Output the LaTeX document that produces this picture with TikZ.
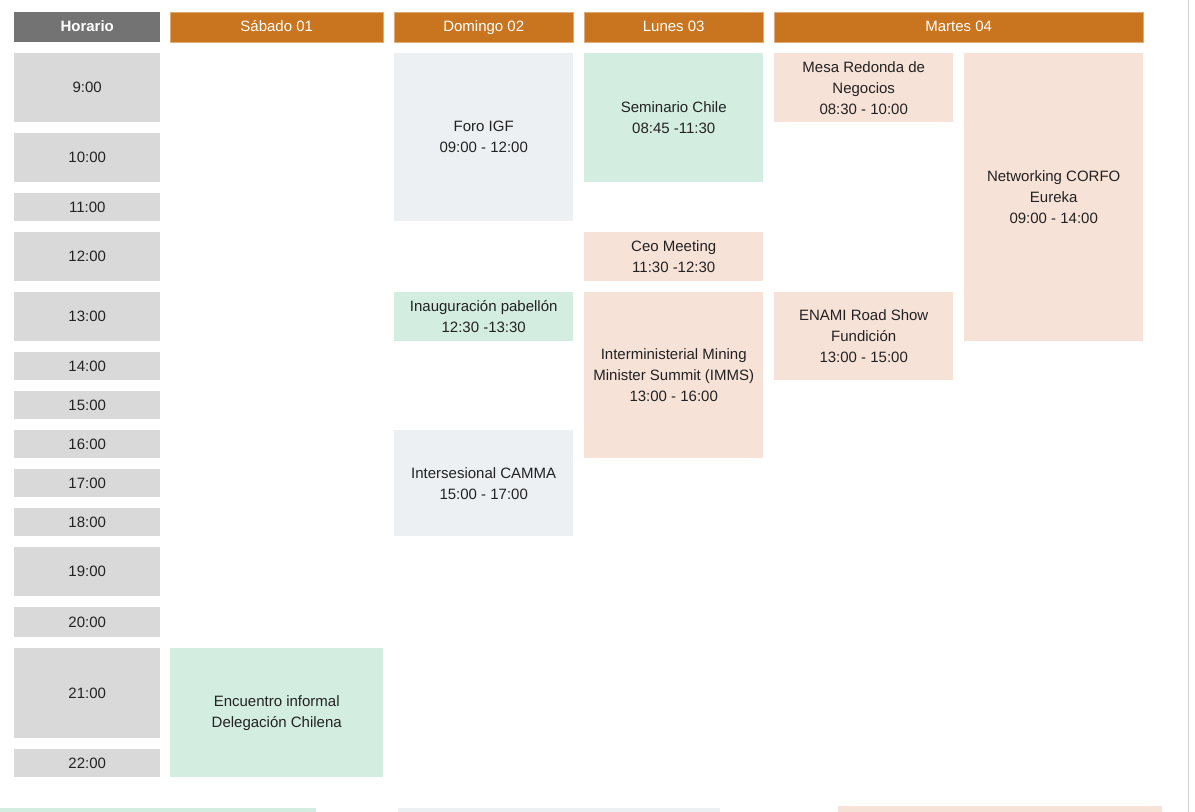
\documentclass[tikz,border=0pt]{standalone}
\usepackage{fontspec}
\setmainfont{Liberation Sans}
\usepackage{tikz}
\usetikzlibrary{positioning}
\definecolor{dayorange}{RGB}{201,117,31}
\definecolor{horagray}{RGB}{115,115,115}
\definecolor{slotgray}{RGB}{217,217,217}
\definecolor{eventgreen}{RGB}{211,238,225}
\definecolor{eventpeach}{RGB}{247,226,215}
\definecolor{eventblue}{RGB}{236,240,243}
\definecolor{inkgray}{RGB}{34,34,34}
\tikzset{
x=0.03cm, y=-0.03cm, % one unit is one pixel of the page
cell/.style 2 args={rectangle, anchor=north west, inner sep=0pt, align=center, minimum width=#1*0.03cm, minimum height=#2*0.03cm, font=\fontsize{12.8}{17.9}\selectfont, text=inkgray}, % width and height in pixels
dayhead/.style={fill=dayorange, draw=dayorange!60, line width=0.4pt, text=white, text height=9.4pt, text depth=2.8pt}, % the orange day titles
hourhead/.style={fill=horagray, text=white, font=\fontsize{12.8}{17.9}\selectfont\bfseries, text height=9.4pt, text depth=2.8pt},
hour/.style={fill=slotgray}, % the grey hour slots
greenev/.style={fill=eventgreen},
peachev/.style={fill=eventpeach},
blueev/.style={fill=eventblue}
}

\begin{document}
\begin{tikzpicture}
      \useasboundingbox (0,0) rectangle (1195,812);

      % titles
      \node[cell={146}{30}, hourhead] (horario) at (14,12) {Horario};
      \node[cell={213}{30}, dayhead] (sabado) at (170,12) {Sábado 01};
      \node[cell={179}{30}, dayhead] (domingo) at (394,12) {Domingo 02};
      \node[cell={179}{30}, dayhead] (lunes) at (584,12) {Lunes 03};
      \node[cell={369}{30}, dayhead] (martes) at (774,12) {Martes 04};

      % hours
      \node[cell={146}{69}, hour] (h9) at (14,53) {9:00};
      \node[cell={146}{49}, hour] (h10) at (14,133) {10:00};
      \node[cell={146}{28}, hour] (h11) at (14,193) {11:00};
      \node[cell={146}{49}, hour] (h12) at (14,232) {12:00};
      \node[cell={146}{49}, hour] (h13) at (14,292) {13:00};
      \node[cell={146}{28}, hour] (h14) at (14,352) {14:00};
      \node[cell={146}{28}, hour] (h15) at (14,391) {15:00};
      \node[cell={146}{28}, hour] (h16) at (14,430) {16:00};
      \node[cell={146}{28}, hour] (h17) at (14,469) {17:00};
      \node[cell={146}{28}, hour] (h18) at (14,508) {18:00};
      \node[cell={146}{49}, hour] (h19) at (14,547) {19:00};
      \node[cell={146}{30}, hour] (h20) at (14,607) {20:00};
      \node[cell={146}{90}, hour] (h21) at (14,648) {21:00};
      \node[cell={146}{28}, hour] (h22) at (14,749) {22:00};

      % events
      \node[cell={213}{129}, greenev] (encuentro) at (170,648) {Encuentro informal\\Delegación Chilena};
      \node[cell={179}{168}, blueev] (foro) at (394,53) {Foro IGF\\09:00 - 12:00};
      \node[cell={179}{49}, greenev] (inaug) at (394,292) {Inauguración pabellón\\12:30 -13:30};
      \node[cell={179}{106}, blueev] (camma) at (394,430) {Intersesional CAMMA\\15:00 - 17:00};
      \node[cell={179}{129}, greenev] (seminario) at (584,53) {Seminario Chile\\08:45 -11:30};
      \node[cell={179}{49}, peachev] (ceo) at (584,232) {Ceo Meeting\\11:30 -12:30};
      \node[cell={179}{166}, peachev] (imms) at (584,292) {Interministerial Mining\\Minister Summit (IMMS)\\13:00 - 16:00};
      \node[cell={179}{69}, peachev] (mesa) at (774,53) {Mesa Redonda de\\Negocios\\08:30 - 10:00};
      \node[cell={179}{88}, peachev] (enami) at (774,292) {ENAMI Road Show\\Fundición\\13:00 - 15:00};
      \node[cell={179}{288}, peachev] (corfo) at (964,53) {Networking CORFO\\Eureka\\09:00 - 14:00};

      % next page peeking in
      \fill[eventgreen] (0,808) rectangle (316,812);
      \fill[eventblue] (398,808) rectangle (720,812);
      \fill[eventpeach] (838,806) rectangle (1162,812);
      \draw[black!18, line width=0.6pt] (1188,0) -- (1188,812);
    \end{tikzpicture}
\end{document}
